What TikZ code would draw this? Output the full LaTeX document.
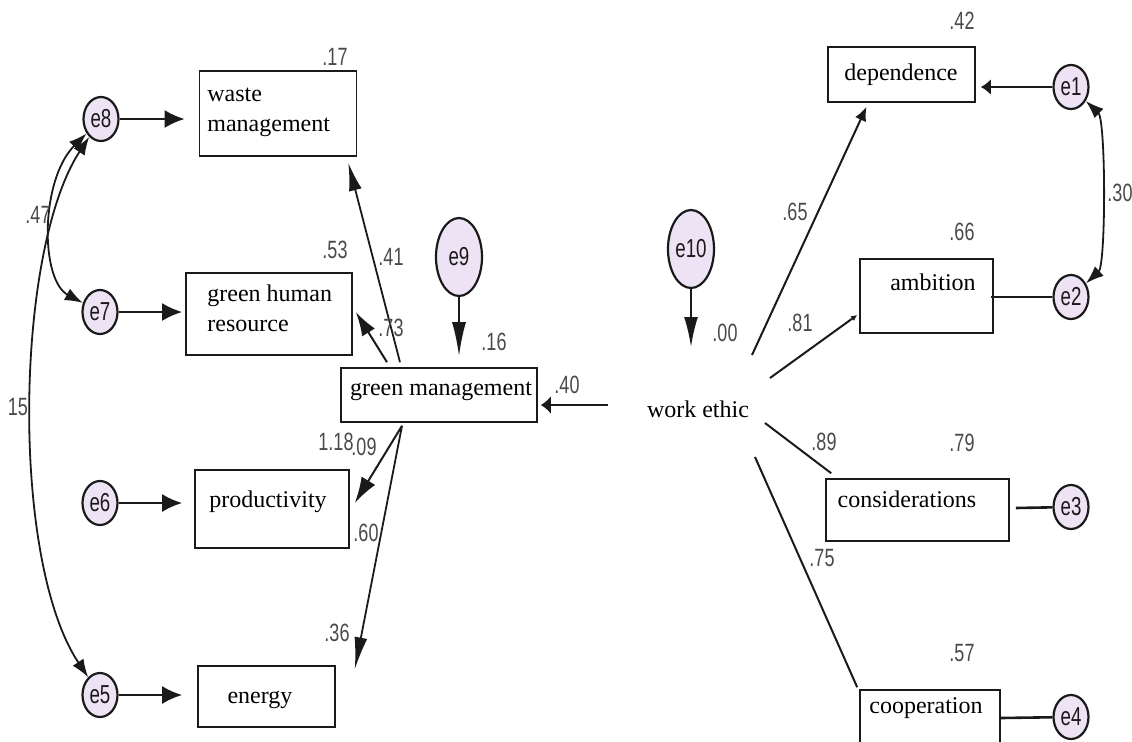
\documentclass[tikz,border=0pt]{standalone}
\usepackage{fontspec}
\setmainfont{Liberation Serif}
\newfontfamily\coeffont[FakeStretch=0.72]{Liberation Sans}
\usepackage{tikz}
\usetikzlibrary{shapes.geometric,arrows.meta,positioning,calc}
\definecolor{SEMErr} {HTML}{EEE3F4}
\definecolor{SEMInk} {HTML}{1A1A1A}
\definecolor{SEMGray}{HTML}{4A4A4A}
\tikzset{
  obsbox/.style={draw=SEMInk,line width=0.8pt,fill=white,inner sep=0pt},
  errsm/.style={ellipse,draw=SEMInk,line width=1.1pt,fill=SEMErr,inner sep=0pt,
    minimum width=17.5pt,minimum height=22pt,text=SEMInk,
    font=\coeffont\fontsize{13}{13}\selectfont},
  errbig/.style={errsm,minimum width=23pt,minimum height=39pt},
  vartxt/.style={font=\fontsize{12}{15}\selectfont,text=black,inner sep=0pt,align=left},
  coef/.style={font=\coeffont\fontsize{12.5}{13}\selectfont,text=SEMGray,inner sep=0pt},
  errarr/.style={-{Latex[length=10pt,width=9pt]},line width=1.2pt,draw=SEMInk},
  pth/.style={line width=0.9pt,draw=SEMInk},
  cov/.style={{Latex[length=9pt,width=6.5pt]}-{Latex[length=9pt,width=6.5pt]},line width=0.9pt,draw=SEMInk}
}
\begin{document}
\begin{tikzpicture}[x=0.5pt,y=-0.5pt]
  \useasboundingbox (0,0) rectangle (1132,741);
  \clip (0,0) rectangle (1132,741);
  % Green management indicators
  \node[obsbox,minimum width=78.5pt,minimum height=42.5pt] (wm)   at (278,113.5) {};
  \node[obsbox,minimum width=83pt,minimum height=41pt]     (ghr)  at (269,314) {};
  \node[obsbox,minimum width=77pt,minimum height=39pt]     (prod) at (272,509) {};
  \node[obsbox,minimum width=68.5pt,minimum height=30.5pt] (enrg) at (266.5,696.5) {};
  \node[obsbox,minimum width=98pt,minimum height=27pt]     (gm)   at (439,395) {};
  \node[vartxt,anchor=north west] (wmtxt)  at (207,88)  {waste\\management};
  \node[vartxt,anchor=north west] (ghrtxt) at (207,284) {green human\\resource};
  \node[vartxt,anchor=base] (prodtxt) at (268,507) {productivity};
  \node[vartxt,anchor=base] (enrgtxt) at (260,703) {energy};
  \node[vartxt,anchor=base] (gmtxt)   at (441,395) {green management};
  % Work ethic indicators
  \node[obsbox,minimum width=73.5pt,minimum height=27.5pt] (dep)  at (901.5,74.5) {};
  \node[obsbox,minimum width=66.5pt,minimum height=37pt]   (amb)  at (926.5,296) {};
  \node[obsbox,minimum width=91.5pt,minimum height=31pt]   (cons) at (917.5,510) {};
  \node[obsbox,minimum width=70pt,minimum height=40pt]     (coop) at (930,730) {};
  \node[vartxt,anchor=base] (deptxt)  at (901,80)  {dependence};
  \node[vartxt,anchor=base] (ambtxt)  at (933,290) {ambition};
  \node[vartxt,anchor=base] (constxt) at (907,507) {considerations};
  \node[vartxt,anchor=base] (cooptxt) at (926,713) {cooperation};
  \node[vartxt,anchor=base] (we)      at (698,417) {work ethic};
  % Error terms
  \node[errsm] (e8) at (101,119) {e8};
  \node[errsm] (e7) at (100,312) {e7};
  \node[errsm] (e6) at (100,503) {e6};
  \node[errsm] (e5) at (100,695) {e5};
  \node[errsm] (e1) at (1071,87)  {e1};
  \node[errsm] (e2) at (1071,297) {e2};
  \node[errsm] (e3) at (1071,507) {e3};
  \node[errsm] (e4) at (1071,717) {e4};
  \node[errbig] (e9)  at (459,257) {e9};
  \node[errbig] (e10) at (691,249) {e10};
  % Error arrows
  \draw[errarr,shorten >=7pt]   (e8) -- (wm.west |- e8);
  \draw[errarr,shorten >=1.5pt] (e7) -- (ghr.west |- e7);
  \draw[errarr,shorten >=6pt]   (e6) -- (prod.west |- e6);
  \draw[errarr,shorten >=7.5pt] (e5) -- (enrg.west |- e5);
  \draw[pth,line width=1.1pt,-{Latex[length=17pt,width=7pt]}] (e9) -- ([shift={(20,-11)}]gm.north);
  \draw[pth,line width=1.1pt,-{Latex[length=15pt,width=7pt]}] (e10) -- ([shift={(-7,-70)}]we.base);
  \draw[pth,line width=1.3pt,-{Latex[length=5pt,width=8pt]}] (e1) -- ([shift={(5,12.5)}]dep.east);
  \draw[pth,line width=1.3pt] ([shift={(-3,1)}]amb.east) -- (e2);
  \draw[pth,line width=1.3pt] ([shift={(6,-2)}]cons.east) -- (e3);
  \draw[pth,line width=1.3pt] ([shift={(0,-12)}]coop.east) -- (e4);
  % Covariances
  \draw[cov] (e8) .. controls (40,180) and (40,280) .. (e7);
  \draw[cov] (e8) .. controls (15,250) and (10,560) .. (e5);
  \draw[cov] (e1) .. controls (1106,120) and (1106,265) .. (e2);
  % Loadings of green management
  \draw[pth,-{Latex[length=14pt,width=6.5pt]}] ([shift={(-39,-5)}]gm.north) -- ([shift={(-9,6)}]wm.south east);
  \draw[pth,line width=1pt,-{Latex[length=12pt,width=7.5pt]}] ([shift={(-52,-5)}]gm.north) -- ([shift={(3,-2)}]ghr.east);
  \draw[pth,line width=1pt,-{Latex[length=13pt,width=8pt]}] ([shift={(-37,3)}]gm.south) -- ([shift={(5,-6)}]prod.east);
  \draw[pth,-{Latex[length=16pt,width=6.5pt]}] ([shift={(-37,3)}]gm.south) -- ([shift={(19,4)}]enrg.north east);
  % Work ethic paths
  \draw[pth,line width=1.4pt,-{Latex[length=5pt,width=9pt]}] ([shift={(-90,-12)}]we.base) -- ([shift={(3,10)}]gm.east);
  \draw[pth,line width=1pt,-{Latex[length=7pt,width=6pt]}] ([shift={(54,-62)}]we.base) -- ([shift={(-35,4)}]dep.south);
  \draw[pth,line width=1pt,-{Latex[length=3pt,width=3pt]}] ([shift={(72,-39)}]we.base) -- ([shift={(-2,19)}]amb.west);
  \draw[pth,line width=1pt] ([shift={(67,6)}]we.base) -- ([shift={(6,-5)}]cons.north west);
  \draw[pth,line width=1pt] ([shift={(57,40)}]we.base) -- ([shift={(-2,-2)}]coop.north west);
  % Estimates
  \node[coef] (c17)  at (335,57)  {.17};
  \node[coef] (c53)  at (335,250) {.53};
  \node[coef] (c41)  at (391,257) {.41};
  \node[coef] (c73)  at (391,328) {.73};
  \node[coef] (c16)  at (494,342) {.16};
  \node[coef] (c40)  at (567,385) {.40};
  \node[coef] (c118) at (336,442) {1.18};
  \node[coef] (c09)  at (364,447) {.09};
  \node[coef] (c60)  at (366,533) {.60};
  \node[coef] (c36)  at (337,633) {.36};
  \node[coef] (c47)  at (38,215)  {.47};
  \node[coef] (c15)  at (18,407)  {15};
  \node[coef] (c42)  at (962,21)  {.42};
  \node[coef] (c65)  at (795,212) {.65};
  \node[coef] (c66)  at (962,232) {.66};
  \node[coef] (c81)  at (800,323) {.81};
  \node[coef] (c00)  at (725,333) {.00};
  \node[coef] (c30)  at (1120,193) {.30};
  \node[coef] (c89)  at (824,442) {.89};
  \node[coef] (c79)  at (962,443) {.79};
  \node[coef] (c75)  at (822,558) {.75};
  \node[coef] (c57)  at (962,653) {.57};
\end{tikzpicture}
\end{document}
